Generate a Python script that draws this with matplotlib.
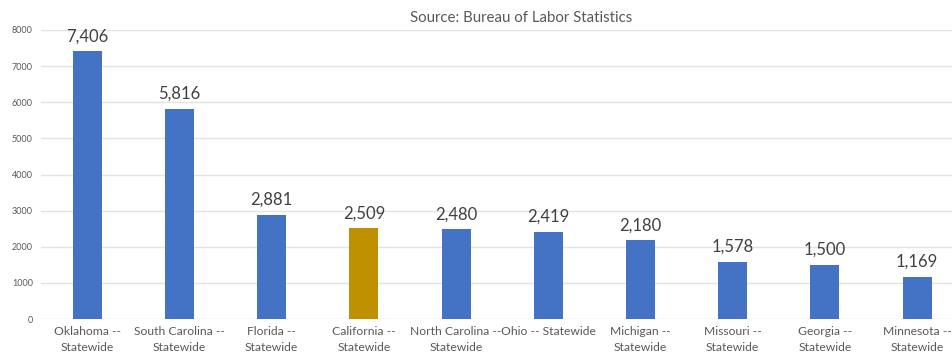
import matplotlib.pyplot as plt

plt.rcParams['font.family'] = ['Lato', 'DejaVu Sans']

states = ['Oklahoma --\nStatewide', 'South Carolina --\nStatewide', 'Florida --\nStatewide',
          'California --\nStatewide', 'North Carolina --\nStatewide', 'Ohio -- Statewide',
          'Michigan --\nStatewide', 'Missouri --\nStatewide', 'Georgia --\nStatewide',
          'Minnesota --\nStatewide']
values = [7406, 5816, 2881, 2509, 2480, 2419, 2180, 1578, 1500, 1169]
highlight = 'California --\nStatewide'
y_ticks = [0, 1000, 2000, 3000, 4000, 5000, 6000, 7000, 8000]

colors = ['#BF9000' if s == highlight else '#4472C4' for s in states]

fig = plt.figure(figsize=(9.52, 3.57), dpi=100)
# plot area runs a little past the right edge, as in the cropped original
ax = fig.add_axes([0.0432, 0.1064, 0.9685, 0.8096])

x = range(len(states))
ax.bar(x, values, width=0.315, color=colors, zorder=3)

for i, v in zip(x, values):
    ax.annotate('{:,}'.format(v), (i, v), xytext=(0, 5), textcoords='offset points',
                ha='center', va='bottom', fontsize=12, color='#404040')

ax.set_xlim(-0.5, len(states) - 0.5)
ax.set_ylim(0, 8000)
ax.set_yticks(y_ticks)
ax.set_yticklabels([str(t) for t in y_ticks], fontsize=6.5, color='#595959')
ax.set_xticks(list(x))
ax.set_xticklabels(states, fontsize=8.7, color='#595959', linespacing=1.55)
ax.tick_params(length=0)
ax.tick_params(axis='x', pad=5)
ax.tick_params(axis='y', pad=6)
ax.grid(axis='y', color='#e3e3e3', linewidth=1, zorder=0)
for sp in ax.spines.values():
    sp.set_visible(False)

fig.text(0.547, 0.95, 'Source: Bureau of Labor Statistics', ha='center', va='center',
         fontsize=10.8, color='#595959')

fig.savefig('out.png', dpi=100)
